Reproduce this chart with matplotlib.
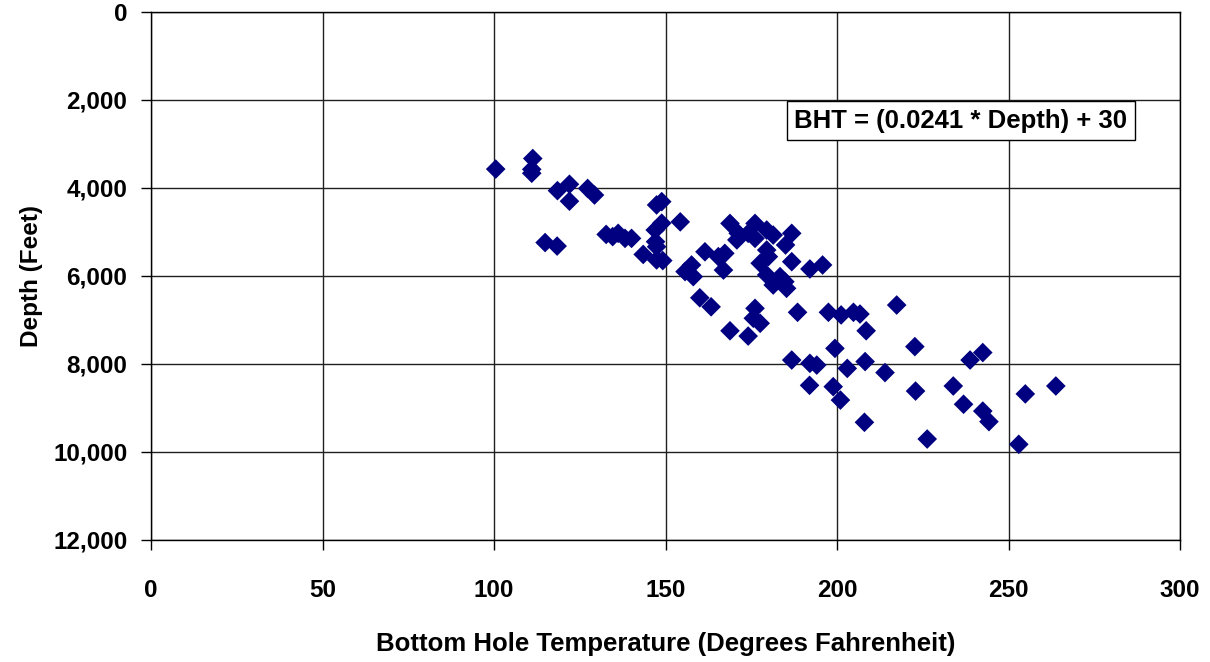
import matplotlib
matplotlib.use("Agg")
import matplotlib.pyplot as plt
from matplotlib.ticker import FuncFormatter

temperature_f = [
    100.5, 111.3, 111.0, 111.0, 118.5, 122.0, 122.0, 127.3, 129.3, 114.9,
    118.4, 132.7, 134.6, 136.2, 138.2, 140.1, 143.5, 147.4, 148.9, 154.3,
    148.9, 147.0, 147.1, 147.4, 147.4, 149.2, 161.5, 157.6, 155.7, 158.1,
    160.0, 163.3, 168.8, 171.2, 170.8, 176.1, 174.1, 176.1, 179.5, 181.4,
    186.8, 185.0, 179.5, 180.0, 177.6, 186.8, 192.1, 195.8, 165.4, 167.3,
    166.9, 179.5, 181.4, 184.8, 185.3, 183.4, 176.1, 175.6, 177.6, 188.5,
    168.8, 174.1, 197.5, 201.2, 204.8, 206.7, 208.5, 199.4, 186.8, 192.1,
    194.1, 203.0, 208.2, 217.4, 222.7, 238.8, 242.5, 214.0, 192.0, 198.9,
    201.0, 222.9, 233.9, 236.9, 242.5, 244.3, 254.9, 263.8, 208.0, 226.3,
    253.0,
]
depth_ft = [
    3570, 3330, 3575, 3665, 4060, 3915, 4300, 4010, 4160, 5240,
    5320, 5055, 5105, 5030, 5145, 5145, 5510, 4385, 4310, 4770,
    4800, 4955, 5220, 5335, 5635, 5650, 5450, 5750, 5900, 6015,
    6495, 6700, 4805, 5030, 5180, 4805, 5030, 5145, 4955, 5070,
    5030, 5295, 5410, 5560, 5710, 5675, 5840, 5750, 5560, 5485,
    5865, 5975, 6205, 6130, 6280, 6015, 6735, 6960, 7075, 6825,
    7245, 7365, 6825, 6885, 6825, 6865, 7245, 7645, 7910, 7985,
    8025, 8100, 7945, 6660, 7605, 7910, 7740, 8195, 8485, 8515,
    8820, 8615, 8500, 8915, 9070, 9310, 8680, 8500, 9325, 9705,
    9825,
]
x_ticks = [0, 50, 100, 150, 200, 250, 300]
y_ticks = [0, 2000, 4000, 6000, 8000, 10000, 12000]
equation = "BHT = (0.0241 * Depth) + 30"

plt.rcParams['font.family'] = ['Liberation Sans', 'DejaVu Sans']
plt.rcParams['font.weight'] = 'bold'

fig = plt.figure(figsize=(12.10, 6.62), dpi=100)
ax = fig.add_axes([151 / 1210, 1 - 540 / 662, 1029 / 1210, 528 / 662])

ax.scatter(temperature_f, depth_ft, marker='D', s=100, color='#000080',
           edgecolors='none', zorder=3)

ax.set_xlim(0, 300)
ax.set_ylim(12000, 0)
ax.set_xticks(x_ticks)
ax.set_yticks(y_ticks)
ax.yaxis.set_major_formatter(FuncFormatter(lambda v, p: f"{int(v):,}"))
ax.grid(True, color='#202020', linewidth=1.0, zorder=0)
for s in ax.spines.values():
    s.set_linewidth(1.0)
    s.set_color('black')
ax.tick_params(axis='both', direction='out', length=7, width=1.0,
               labelsize=17.5)
ax.tick_params(axis='x', pad=21)
ax.tick_params(axis='y', pad=10)
for lab in ax.get_xticklabels() + ax.get_yticklabels():
    lab.set_fontweight('bold')

ax.set_xlabel("Bottom Hole Temperature (Degrees Fahrenheit)", fontsize=18.5,
              fontweight='bold', labelpad=22)
ax.set_ylabel("Depth (Feet)", fontsize=17.5, fontweight='bold', labelpad=7)

ax.text(0.787, 0.794, equation, transform=ax.transAxes, ha='center',
        va='center', fontsize=18.5, fontweight='bold', zorder=5,
        bbox=dict(boxstyle='square,pad=0.3', facecolor='white',
                  edgecolor='black', linewidth=1.0))

fig.savefig("out.png", dpi=100)
